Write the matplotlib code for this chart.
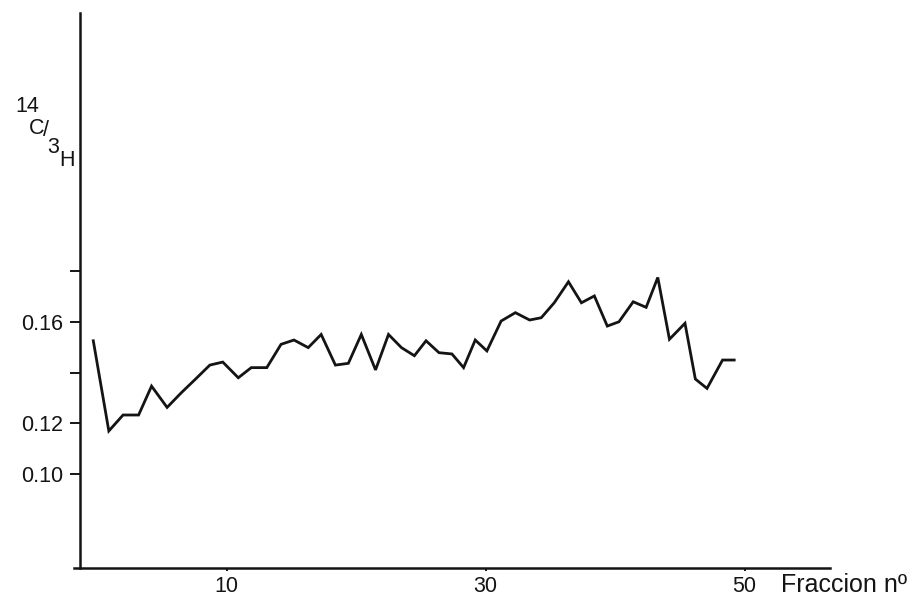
import matplotlib
matplotlib.use("Agg")
import matplotlib.pyplot as plt

# fraction number and 14C/3H ratio for each collected fraction
fraccion = [-0.3, 0.9, 2.0, 3.2, 4.2, 5.4, 6.5, 7.6, 8.7, 9.7,
            10.9, 11.9, 13.1, 14.2, 15.2, 16.3, 17.3, 18.4, 19.4, 20.4,
            21.5, 22.5, 23.5, 24.5, 25.4, 26.4, 27.4, 28.3, 29.2, 30.1,
            31.2, 32.3, 33.4, 34.3, 35.3, 36.4, 37.4, 38.4, 39.4, 40.3,
            41.4, 42.4, 43.3, 44.2, 45.4, 46.2, 47.1, 48.3, 49.2]
ratio = [0.1526, 0.1170, 0.1233, 0.1233, 0.1347, 0.1263, 0.1321, 0.1375, 0.1430, 0.1442,
         0.1380, 0.1420, 0.1420, 0.1512, 0.1529, 0.1499, 0.1551, 0.1430, 0.1437, 0.1551,
         0.1411, 0.1551, 0.1499, 0.1467, 0.1526, 0.1479, 0.1474, 0.1420, 0.1529, 0.1486,
         0.1604, 0.1637, 0.1608, 0.1617, 0.1676, 0.1759, 0.1676, 0.1703, 0.1584, 0.1601,
         0.1680, 0.1658, 0.1776, 0.1532, 0.1595, 0.1375, 0.1338, 0.1450, 0.1450]

x_ticks = [10, 30, 50]
y_ticks = [0.10, 0.12, 0.14, 0.16, 0.18]
y_tick_labels = ["0.10", "0.12", "", "0.16", ""]

W, H = 913, 597
FONT = "Liberation Sans"
INK = "#141414"

fig = plt.figure(figsize=(W / 100, H / 100), dpi=100)
fig.patch.set_facecolor("white")


def px(x, y):
    # pixel position (from top-left) to figure fraction
    return x / W, 1 - y / H


ax = fig.add_axes([74 / W, (H - 568) / H, (830 - 74) / W, (568 - 13) / H])
ax.plot(fraccion, ratio, color=INK, lw=2.0, solid_joinstyle="miter")

ax.set_xlim(-1.79, 56.6)
ax.set_ylim(0.0629, 0.282)

for side in ("top", "right"):
    ax.spines[side].set_visible(False)
ax.spines["left"].set_position(("data", -1.33))
for side in ("left", "bottom"):
    ax.spines[side].set_linewidth(1.8)
    ax.spines[side].set_color(INK)

ax.set_xticks(x_ticks)
ax.set_xticklabels([str(t) for t in x_ticks], fontfamily=FONT, fontsize=15.5, color=INK)
ax.set_yticks(y_ticks)
ax.set_yticklabels(y_tick_labels, fontfamily=FONT, fontsize=15.5, color=INK)
ax.tick_params(axis="y", direction="out", length=7, width=1.4, pad=5, colors=INK)
ax.tick_params(axis="x", direction="out", length=2, width=1.4, pad=3.5, colors=INK)

# axis titles
fig.text(*px(781, 585), "Fraccion nº", fontfamily=FONT, fontsize=18,
         color=INK, ha="left", va="center")
label_parts = [("14", 27.5, 107), ("C", 37, 128), ("/", 46, 130),
               ("3", 53, 147), ("H", 67, 160)]
for txt, lx, ly in label_parts:
    fig.text(*px(lx, ly), txt, fontfamily=FONT, fontsize=15.5,
             color=INK, ha="center", va="center")

fig.savefig("out.png", dpi=100)
